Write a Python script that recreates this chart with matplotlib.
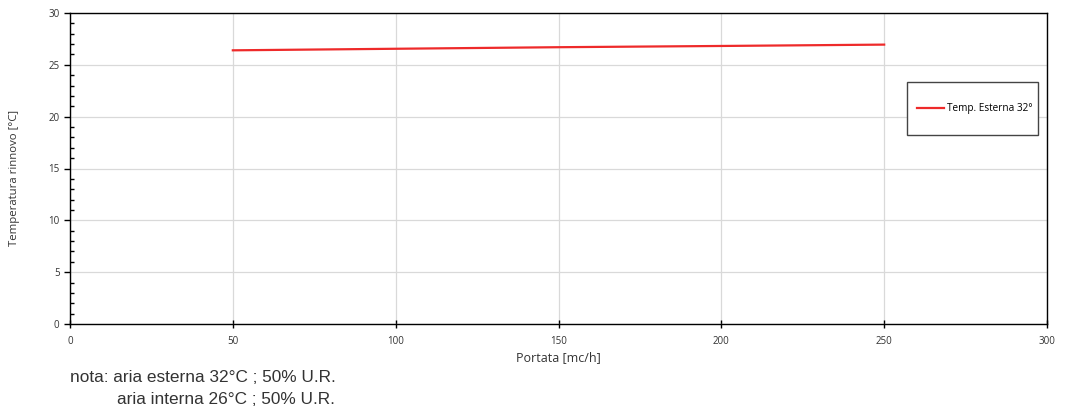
import matplotlib
matplotlib.use("Agg")
import matplotlib.pyplot as plt
from matplotlib.ticker import MultipleLocator
from matplotlib.patches import Rectangle

portata = [50, 100, 150, 200, 250]
temp_32 = [26.4, 26.55, 26.7, 26.82, 26.95]
series_label = "Temp. Esterna 32°"
xlabel = "Portata [mc/h]"
ylabel = "Temperatura rinnovo [°C]"
note_lines = ["nota: aria esterna 32°C ; 50% U.R.", "aria interna 26°C ; 50% U.R."]

fig = plt.figure(figsize=(10.66, 4.12), dpi=100)
W, H = 1066, 412
ax = fig.add_axes([70 / W, 1 - 324 / H, (1047 - 70) / W, (324 - 13) / H])
AW, AH = 977, 311

ax.plot(portata, temp_32, color="#ee2a2a", lw=1.6, label=series_label)
ax.set_xlim(0, 300)
ax.set_ylim(0, 30)
ax.xaxis.set_major_locator(MultipleLocator(50))
ax.yaxis.set_major_locator(MultipleLocator(5))
ax.yaxis.set_minor_locator(MultipleLocator(1))
ax.grid(True, which="major", color="#d9d9d9", lw=0.9)
ax.set_axisbelow(True)
for s in ax.spines.values():
    s.set_color("black")
    s.set_linewidth(1.0)

tfont = "Open Sans"
ax.tick_params(axis="x", which="major", direction="inout", length=6, width=1, labelsize=7, pad=6,
               labelcolor="#333333")
ax.tick_params(axis="y", which="major", direction="out", length=4, width=1, labelsize=7,
               labelcolor="#333333")
ax.tick_params(axis="y", which="minor", direction="in", length=3, width=1)
for lab in ax.get_xticklabels() + ax.get_yticklabels():
    lab.set_fontfamily(tfont)

ax.set_xlabel(xlabel, fontsize=9, fontfamily=tfont, color="#333333")
ax.xaxis.set_label_coords(0.5, -(358 - 324) / AH)
ax.xaxis.label.set_va("center")
ax.set_ylabel(ylabel, fontsize=8.2, fontfamily=tfont, color="#333333")
ax.yaxis.set_label_coords(-(70 - 15) / AW, (324 - 178) / AH)
ax.yaxis.label.set_va("center")

# legend frame
ax.add_patch(Rectangle(((907 - 70) / AW, (324 - 135) / AH), (1038 - 907) / AW, (135 - 82) / AH,
                       transform=ax.transAxes, fill=True, facecolor="white",
                       edgecolor="#444444", lw=1.0, zorder=5))
leg = ax.legend(loc="center left", bbox_to_anchor=((917 - 70) / AW, (324 - 109) / AH),
                frameon=False, prop={"family": tfont, "size": 7.2},
                handlelength=2.7, handletextpad=0.3, borderpad=0, borderaxespad=0)
leg.set_zorder(6)

fig.text(70 / W, 1 - 378 / H, note_lines[0], fontsize=12.4, family="Liberation Sans",
         color="#333333", va="center", ha="left")
fig.text(117 / W, 1 - 400 / H, note_lines[1], fontsize=12.4, family="Liberation Sans",
         color="#333333", va="center", ha="left")

fig.savefig("out.png", dpi=100)
